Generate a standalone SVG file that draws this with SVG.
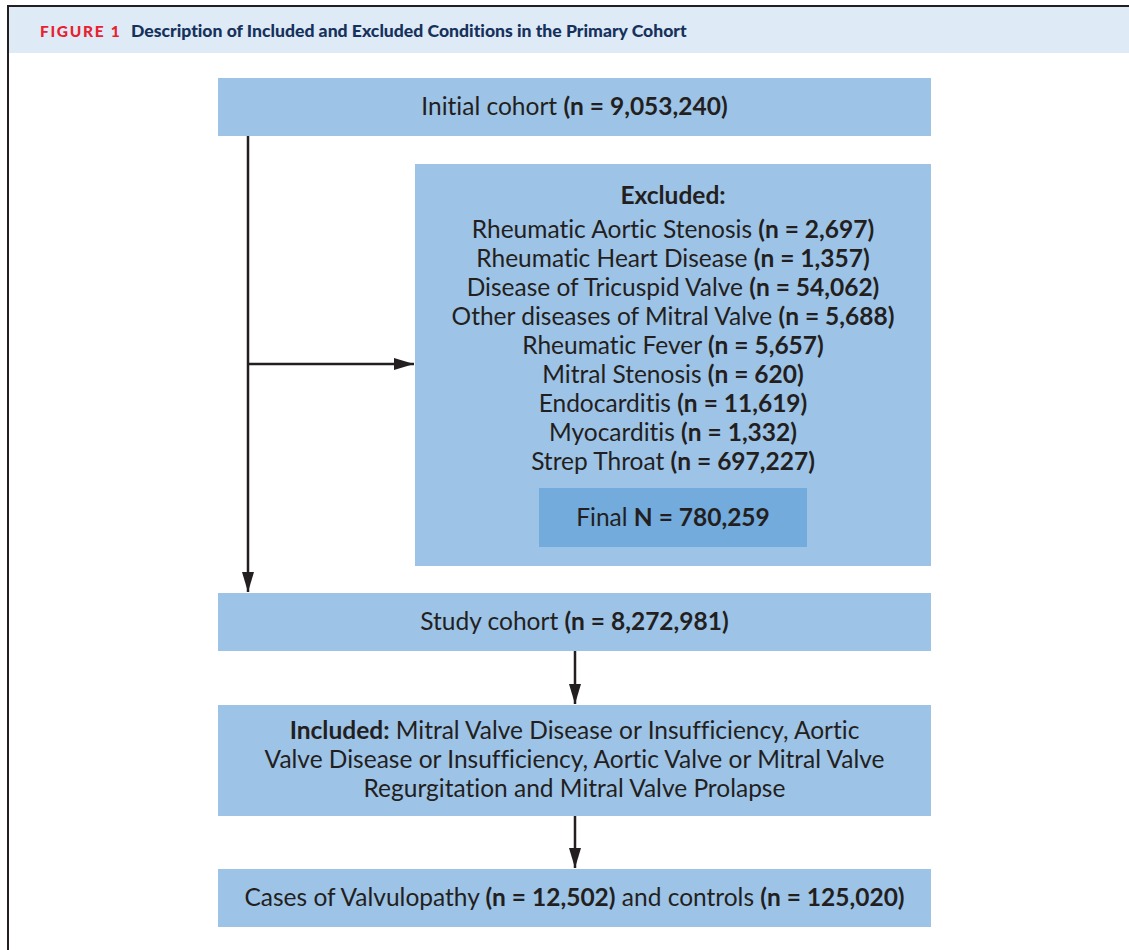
<svg xmlns="http://www.w3.org/2000/svg" width="1129" height="950" viewBox="0 0 1129 950">
<style>
text{font-variant-ligatures:none;font-feature-settings:"liga" 0,"dlig" 0}
.box{fill:#9dc3e7}
.inner{fill:#72abdc}
.t{font-family:Lato,"Noto Sans",sans-serif;font-size:24.5px;fill:#231f20;text-anchor:middle}
.b{font-weight:bold}
.ln{stroke:#231f20;stroke-width:2.5;fill:none}
</style>
<defs>
<marker id="ahv" viewBox="0 0 20 12" refX="20" refY="6" markerWidth="20" markerHeight="12" markerUnits="userSpaceOnUse" orient="auto">
<path d="M0,0 L20,6 L0,12 z" fill="#231f20"/>
</marker>
</defs>
<rect width="1129" height="950" fill="#ffffff"/>
<g id="header">
<rect x="8" y="7" width="1121" height="46" fill="#deeaf6"/>
<line x1="7" y1="6" x2="1129" y2="6" stroke="#231f20" stroke-width="2"/>
<line x1="8" y1="6" x2="8" y2="950" stroke="#231f20" stroke-width="2"/>
<text x="40" y="37" font-family="Lato,'Noto Sans',sans-serif" font-size="15.5" font-weight="900" fill="#e8212e" letter-spacing="1.7">FIGURE 1</text>
<text x="131" y="37" font-family="Lato,'Noto Sans',sans-serif" font-size="17.6" font-weight="900" fill="#16325c">Description of Included and Excluded Conditions in the Primary Cohort</text>
</g>
<g id="connectors">
<line class="ln" x1="248" y1="136" x2="248" y2="592" marker-end="url(#ahv)"/>
<line class="ln" x1="248" y1="364" x2="414" y2="364" marker-end="url(#ahv)"/>
<line class="ln" x1="575" y1="651" x2="575" y2="704" marker-end="url(#ahv)"/>
<line class="ln" x1="575" y1="816" x2="575" y2="868" marker-end="url(#ahv)"/>
</g>
<g id="initial">
<rect class="box" x="218" y="78" width="713" height="58"/>
<text class="t" x="574.5" y="115">Initial cohort <tspan class="b">(n = 9,053,240)</tspan></text>
</g>
<g id="excluded">
<rect class="box" x="415" y="164" width="516" height="402"/>
<text class="t b" x="673" y="204">Excluded:</text>
<text class="t" x="673" y="238">Rheumatic Aortic Stenosis <tspan class="b">(n = 2,697)</tspan></text>
<text class="t" x="673" y="267">Rheumatic Heart Disease <tspan class="b">(n = 1,357)</tspan></text>
<text class="t" x="673" y="296">Disease of Tricuspid Valve <tspan class="b">(n = 54,062)</tspan></text>
<text class="t" x="673" y="325">Other diseases of Mitral Valve <tspan class="b">(n = 5,688)</tspan></text>
<text class="t" x="673" y="354">Rheumatic Fever <tspan class="b">(n = 5,657)</tspan></text>
<text class="t" x="673" y="383">Mitral Stenosis <tspan class="b">(n = 620)</tspan></text>
<text class="t" x="673" y="412">Endocarditis <tspan class="b">(n = 11,619)</tspan></text>
<text class="t" x="673" y="441">Myocarditis <tspan class="b">(n = 1,332)</tspan></text>
<text class="t" x="673" y="470">Strep Throat <tspan class="b">(n = 697,227)</tspan></text>
</g>
<g id="final">
<rect class="inner" x="539" y="488" width="268" height="59"/>
<text class="t" x="673" y="526">Final <tspan class="b">N = 780,259</tspan></text>
</g>
<g id="study">
<rect class="box" x="218" y="593" width="713" height="58"/>
<text class="t" x="574.5" y="630">Study cohort <tspan class="b">(n = 8,272,981)</tspan></text>
</g>
<g id="included">
<rect class="box" x="218" y="705" width="713" height="111"/>
<text class="t" x="574.5" y="739"><tspan class="b">Included:</tspan> Mitral Valve Disease or Insufficiency, Aortic</text>
<text class="t" x="574.5" y="768">Valve Disease or Insufficiency, Aortic Valve or Mitral Valve</text>
<text class="t" x="574.5" y="797">Regurgitation and Mitral Valve Prolapse</text>
</g>
<g id="cases">
<rect class="box" x="218" y="869" width="713" height="58"/>
<text class="t" x="574.5" y="906">Cases of Valvulopathy <tspan class="b">(n = 12,502)</tspan> and controls <tspan class="b">(n = 125,020)</tspan></text>
</g>
</svg>
